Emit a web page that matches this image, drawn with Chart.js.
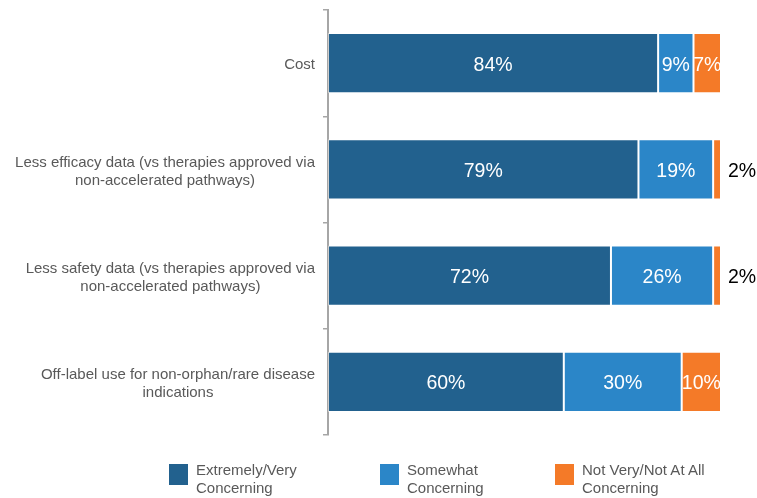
<!DOCTYPE html>
<html>
<head>
<meta charset="utf-8">
<script src="https://cdn.jsdelivr.net/npm/chart.js@4/dist/chart.umd.min.js"></script>
<style>
  html, body { margin: 0; padding: 0; background: #fff; }
  #wrap { position: relative; width: 757px; height: 498px; }
  .legend { position: absolute; top: 461px; font: 15px "Liberation Sans", Arial, sans-serif; color: #595959; line-height: 18px; }
  .legend span { position: absolute; left: 0; top: 3px; width: 19px; height: 21px; }
  .legend div { margin-left: 27px; white-space: nowrap; }
</style>
</head>
<body>
<div id="wrap">
  <canvas id="c" width="757" height="498"></canvas>
</div>
<script>
const categories = [
  ['Cost'],
  ['Less efficacy data (vs therapies approved via', 'non-accelerated pathways)'],
  ['Less safety data (vs therapies approved via', 'non-accelerated pathways)'],
  ['Off-label use for non-orphan/rare disease', 'indications']
];
const seriesNames = [
  ['Extremely/Very', 'Concerning'],
  ['Somewhat', 'Concerning'],
  ['Not Very/Not At All', 'Concerning']
];
const extremely = [84, 79, 72, 60];
const somewhat = [9, 19, 26, 30];
const notVery = [7, 2, 2, 10];
const colors = ['#22618E', '#2B86C8', '#F47A28'];

const font = '"Liberation Sans", Arial, sans-serif';

// category labels: block right-aligned, lines centred inside the block
const catLabels = {
  id: 'catLabels',
  afterDraw(chart) {
    const { ctx, chartArea, scales: { y } } = chart;
    ctx.save();
    ctx.font = '15px ' + font;
    ctx.fillStyle = '#595959';
    ctx.textAlign = 'center';
    ctx.textBaseline = 'middle';
    categories.forEach((lines, i) => {
      const yc = y.getPixelForValue(i) + 2;
      const w = Math.max(...lines.map(l => ctx.measureText(l).width));
      const cx = chartArea.left - 13 - w / 2;
      const lh = 18;
      lines.forEach((l, j) => {
        ctx.fillText(l, cx, yc + (j - (lines.length - 1) / 2) * lh);
      });
    });
    ctx.restore();
  }
};

// value labels inside segments, small ones outside to the right
const valueLabels = {
  id: 'valueLabels',
  afterDatasetsDraw(chart) {
    const { ctx } = chart;
    ctx.save();
    ctx.font = '19.5px ' + font;
    ctx.textBaseline = 'middle';
    chart.data.datasets.forEach((ds, di) => {
      chart.getDatasetMeta(di).data.forEach((bar, i) => {
        const v = ds.data[i];
        if (v < 5) {
          ctx.fillStyle = '#000';
          ctx.textAlign = 'left';
          ctx.fillText(v + '%', bar.x + 7, bar.y + 2);
        } else {
          ctx.fillStyle = '#fff';
          ctx.textAlign = 'center';
          ctx.fillText(v + '%', (bar.x + bar.base) / 2, bar.y + 2);
        }
      });
    });
    ctx.restore();
  }
};

new Chart(document.getElementById('c'), {
  type: 'bar',
  data: {
    labels: categories,
    datasets: [extremely, somewhat, notVery].map((d, i) => ({
      label: seriesNames[i].join(' '),
      data: d,
      backgroundColor: colors[i],
      borderColor: 'rgba(255,255,255,0.45)',
      borderWidth: 1,
      borderSkipped: false,
      barPercentage: 0.565,
      categoryPercentage: 1
    }))
  },
  options: {
    indexAxis: 'y',
    responsive: false,
    animation: false,
    layout: { padding: { top: 10, right: 36, bottom: 63, left: 0 } },
    plugins: {
      legend: { display: false },
      tooltip: { enabled: false }
    },
    scales: {
      x: { stacked: true, min: 0, max: 100, display: false },
      y: {
        stacked: true,
        afterFit: s => { s.width = 328; },
        ticks: { display: false },
        border: { color: '#a6a6a6', width: 2 },
        grid: {
          offset: true,
          drawOnChartArea: false,
          drawTicks: true,
          tickLength: 5,
          color: '#a6a6a6',
          lineWidth: 1.5
        }
      }
    }
  },
  plugins: [catLabels, valueLabels]
});

// legend
const wrap = document.getElementById('wrap');
const legendX = [169, 380, 555];
seriesNames.forEach((lines, i) => {
  const el = document.createElement('div');
  el.className = 'legend';
  el.style.left = legendX[i] + 'px';
  el.innerHTML = '<span style="background:' + colors[i] + '"></span><div>' + lines.join('<br>') + '</div>';
  wrap.appendChild(el);
});
</script>
</body>
</html>
